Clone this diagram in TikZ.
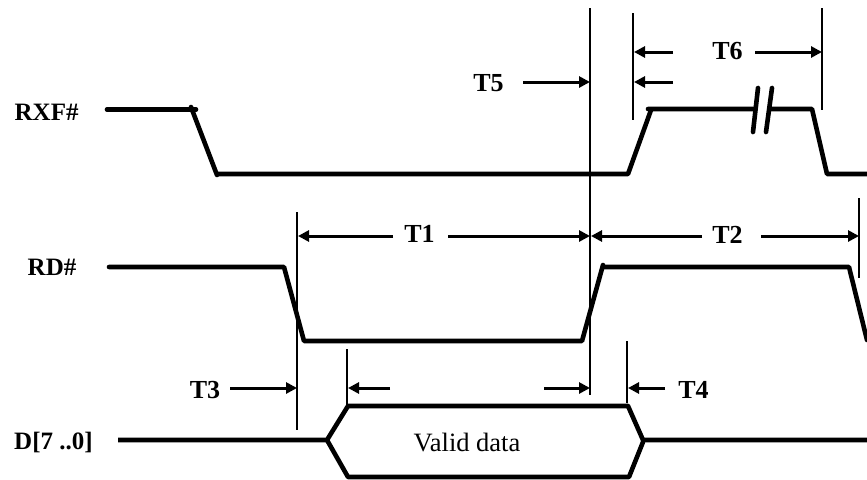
\documentclass[tikz,border=0pt]{standalone}
\usepackage{fontspec}
\setmainfont{Liberation Serif}
\usetikzlibrary{arrows.meta}
\tikzset{
  wave/.style={line width=4.6pt,line cap=round,line join=round},
  guide/.style={line width=2pt},
  dim/.style={line width=3pt,-{Triangle[length=11pt,width=11pt]}},
  lab/.style={font=\fontsize{26}{28}\selectfont\bfseries,inner sep=0pt,anchor=base},
  siglab/.style={font=\fontsize{25}{28}\selectfont\bfseries,inner sep=0pt,anchor=base west},
}
\begin{document}
\begin{tikzpicture}[x=1pt,y=-1pt]
\useasboundingbox (0,0) rectangle (867,479);
% guides
\draw[guide] (590,8) -- (590,395);
\draw[guide] (632.5,13) -- (632.5,120);
\draw[guide] (822,8) -- (822,110);
\draw[guide] (297,212) -- (297,430);
\draw[guide] (859,198) -- (859,278);
\draw[guide] (347,349) -- (347,405);
\draw[guide] (627,341) -- (627,403);
% waves
\draw[wave] (107,109.5) -- (196,109.5);
\draw[wave] (191,107) -- (217,175);
\draw[wave] (218,174) -- (628,174) -- (651,110);
\draw[wave] (648,109) -- (812,109) -- (827,174) -- (867,174);
\fill[white] (757,100) rectangle (767.5,118);
\draw[wave] (758,88) -- (753,132);
\draw[wave] (772,88) -- (766,132);
\draw[wave] (109,267) -- (284,267) -- (304,341) -- (582,341) -- (603,265);
\draw[wave] (604,267) -- (849,267) -- (867,340);
\draw[wave,line cap=butt] (118,440) -- (327,440) -- (348,406) -- (628,406);
\draw[wave,line cap=round] (628,406) -- (643,440) -- (867,440);
\draw[wave] (327,440) -- (348,477) -- (629,477) -- (643,442);
% labels
\node[siglab] (rxf) at (14.5,120.5) {RXF\#};
\node[siglab] (rd) at (27.5,275) {RD\#};
\node[siglab] (d) at (14,449) {D[7 ..0]};
\node[lab] (t1) at (419.5,242.5) {T1};
\node[lab] (t2) at (727.5,243) {T2};
\node[lab] (t3) at (205,398) {T3};
\node[lab] (t4) at (693.5,398) {T4};
\node[lab] (t5) at (488.5,91) {T5};
\node[lab] (t6) at (727.5,59) {T6};
\node[font=\fontsize{26.5}{28}\selectfont,inner sep=0pt,anchor=base] (vd) at (467,451) {Valid data};
% dimension arrows
\coordinate (a0) at (393,236); \coordinate (a1) at (298,236);
\coordinate (a3) at (448,236); \coordinate (a2) at (590,236);
\draw[dim] (a0) -- (a1);
\draw[dim] (a3) -- (a2);
\coordinate (b0) at (702,236); \coordinate (b1) at (591,236);
\coordinate (b3) at (761,236); \coordinate (b2) at (859,236);
\draw[dim] (b0) -- (b1);
\draw[dim] (b3) -- (b2);
\coordinate (c0) at (230,388); \coordinate (c1) at (297,388);
\coordinate (c5) at (390,388); \coordinate (c2) at (348,388);
\coordinate (c6) at (544,388); \coordinate (c3) at (590,388);
\coordinate (c7) at (665,388); \coordinate (c4) at (628,388);
\draw[dim] (c0) -- (c1);
\draw[dim] (c5) -- (c2);
\draw[dim] (c6) -- (c3);
\draw[dim] (c7) -- (c4);
\coordinate (e0) at (523,82); \coordinate (e1) at (590,82);
\draw[dim] (e0) -- (e1);
\coordinate (f0) at (673,52); \coordinate (f1) at (634,52);
\coordinate (f4) at (755,52); \coordinate (f2) at (822,52);
\coordinate (f5) at (673,82); \coordinate (f3) at (634,82);
\draw[dim] (f0) -- (f1);
\draw[dim] (f4) -- (f2);
\draw[dim] (f5) -- (f3);
\end{tikzpicture}
\end{document}
